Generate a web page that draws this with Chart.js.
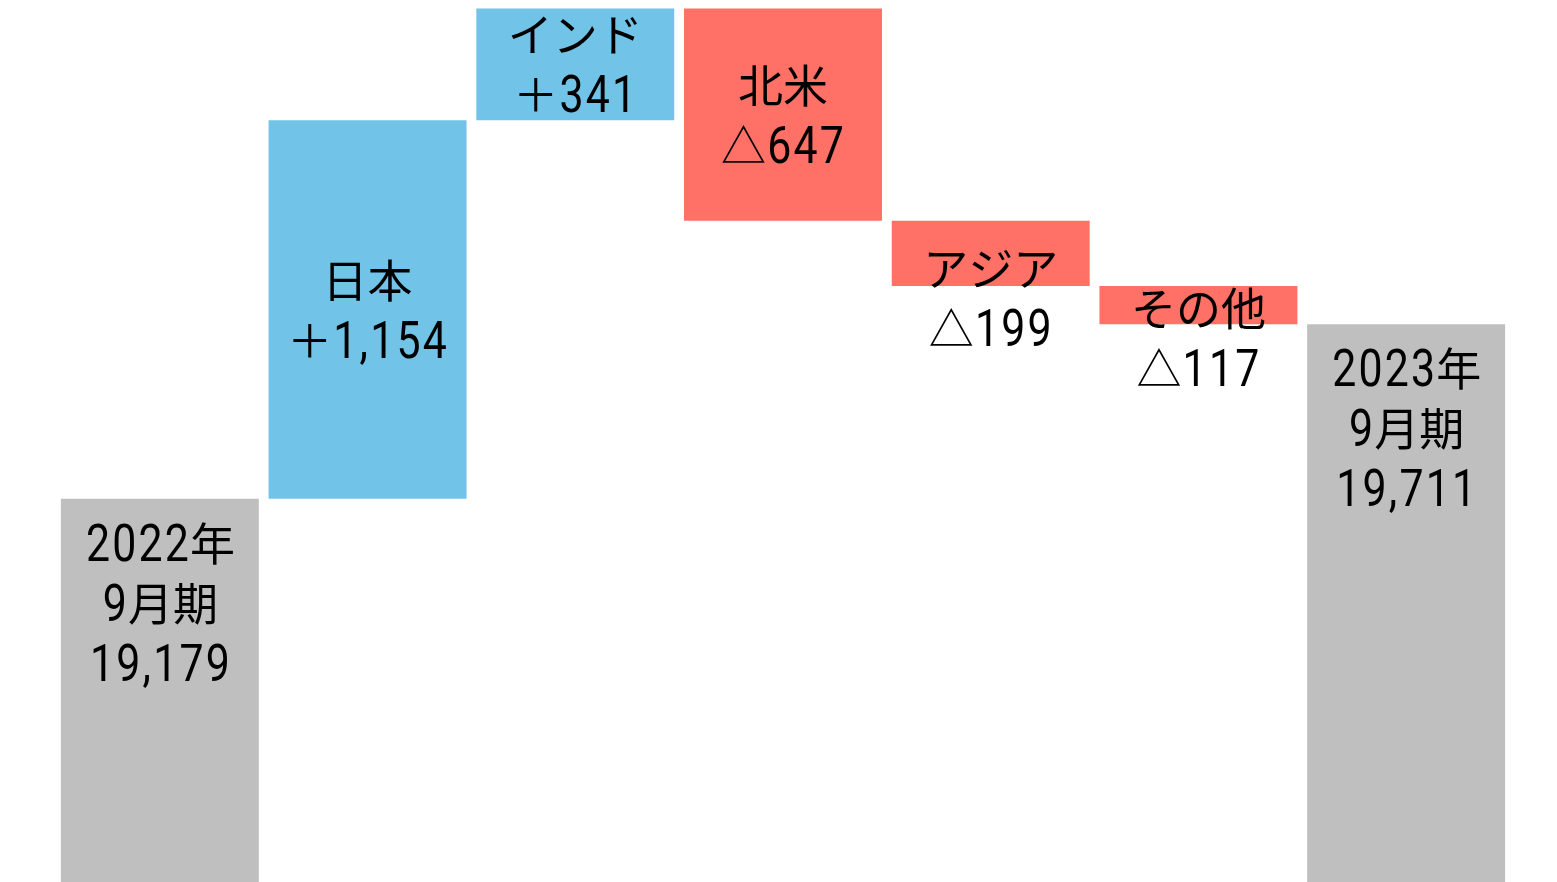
<!DOCTYPE html>
<html>
<head>
<meta charset="utf-8">
<script src="https://cdn.jsdelivr.net/npm/chart.js@4/dist/chart.umd.min.js"></script>
<style>
  html, body { margin: 0; padding: 0; background: #fff; }
  #wrap { width: 1557px; height: 882px; position: relative; }
</style>
</head>
<body>
<div id="wrap"><canvas id="chart"></canvas></div>
<script>
// categories / values
const categories = ['2022年\n9月期', '日本', 'インド', '北米', 'アジア', 'その他', '2023年\n9月期'];
const changes = [19179, 1154, 341, -647, -199, -117, 19711];
const isTotal = [true, false, false, false, false, false, true];
const barColors = ['#BFBFBF', '#71C4E7', '#71C4E7', '#FF7066', '#FF7066', '#FF7066', '#BFBFBF'];

// running total -> floating bars
const yMin = 18010;
let running = 0;
const ranges = changes.map((v, i) => {
    if (isTotal[i]) {
        running = v;
        return [yMin, v];
    }
    const start = running;
    running += v;
    return [start, running];
});

function valueText(v, total) {
    const s = Math.abs(v).toLocaleString('en-US');
    if (total) return s;
    return (v >= 0 ? '＋' : '△') + s;
}

// ascii chars: narrowed latin face with a bit of tracking, everything else: CJK face
function drawMixed(ctx, text, cx, baseline) {
    const latin = '51px Roboto, "Liberation Sans", sans-serif';
    const cjk = '45px "Noto Sans CJK JP", sans-serif';
    const sx = 0.84;
    const track = 2.2;
    const glyphs = [];
    let total = 0;
    for (const ch of text) {
        const isLatin = /[\x20-\x7E]/.test(ch);
        ctx.font = isLatin ? latin : cjk;
        const w = isLatin ? ctx.measureText(ch).width * sx + track : ctx.measureText(ch).width;
        glyphs.push({ ch, isLatin, w });
        total += w;
    }
    let x = cx - total / 2;
    glyphs.forEach(g => {
        ctx.font = g.isLatin ? latin : cjk;
        ctx.save();
        ctx.translate(x + (g.isLatin ? track / 2 : 0), baseline);
        if (g.isLatin) ctx.scale(sx, 1);
        ctx.fillText(g.ch, 0, 0);
        ctx.restore();
        x += g.w;
    });
}

const labelNudge = [0, 0, 0, 0, 45, 33, 0];

const labelPlugin = {
    id: 'waterfallLabels',
    afterDatasetsDraw(chart) {
        const ctx = chart.ctx;
        const meta = chart.getDatasetMeta(0);
        const lineGap = 60;
        const midToBase = 18;
        ctx.save();
        ctx.fillStyle = '#000';
        ctx.textAlign = 'left';
        ctx.textBaseline = 'alphabetic';
        meta.data.forEach((bar, i) => {
            const top = Math.min(bar.y, bar.base);
            const bottom = Math.max(bar.y, bar.base);
            const lines = categories[i].split('\n').concat(valueText(changes[i], isTotal[i]));
            let firstMid;
            if (isTotal[i]) {
                firstMid = top + 44;
            } else {
                const c = (top + bottom) / 2 + labelNudge[i];
                firstMid = c - (lines.length - 1) * lineGap / 2;
            }
            lines.forEach((ln, k) => {
                drawMixed(ctx, ln, bar.x, firstMid + k * lineGap + midToBase);
            });
        });
        ctx.restore();
    }
};

new Chart(document.getElementById('chart'), {
    type: 'bar',
    data: {
        labels: categories,
        datasets: [{
            data: ranges,
            backgroundColor: barColors,
            borderWidth: 0,
            barPercentage: 0.953,
            categoryPercentage: 1
        }]
    },
    options: {
        responsive: true,
        maintainAspectRatio: false,
        animation: false,
        layout: { padding: { left: 56, right: 47, top: 0, bottom: 0 } },
        scales: {
            x: { display: false },
            y: { display: false, min: yMin, max: 20700 }
        },
        plugins: {
            legend: { display: false },
            tooltip: { enabled: false }
        }
    },
    plugins: [labelPlugin]
});
</script>
</body>
</html>
